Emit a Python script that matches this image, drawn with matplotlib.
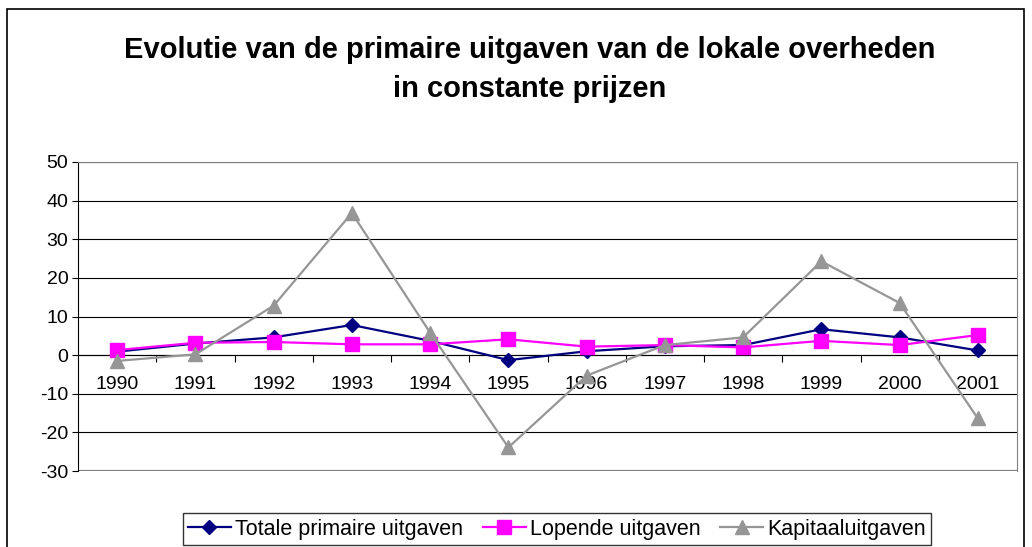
import numpy as np
import matplotlib.pyplot as plt
from matplotlib.patches import Rectangle

plt.rcParams['font.family'] = ['Liberation Sans', 'DejaVu Sans']
plt.rcParams['axes.unicode_minus'] = False

# Gegevens
jaren = ['1990', '1991', '1992', '1993', '1994', '1995', '1996', '1997', '1998', '1999', '2000', '2001']
totale = [0.9, 3.0, 4.6, 7.8, 3.7, -1.3, 1.0, 2.3, 2.6, 6.7, 4.6, 1.2]
lopende = [1.3, 3.2, 3.4, 2.8, 2.8, 4.1, 2.2, 2.6, 2.0, 3.7, 2.6, 5.2]
kapitaal = [-1.5, 0.2, 12.8, 36.8, 5.8, -23.9, -5.3, 2.6, 4.6, 24.3, 13.5, -16.4]

fig = plt.figure(figsize=(10.32, 5.47), dpi=100)
ax = fig.add_axes([78/1032, 1 - 471/547, (1017 - 78)/1032, (471 - 162)/547])

x = np.arange(len(jaren))
ax.plot(x, totale, color='#000080', lw=1.6, marker='D', ms=7, label='Totale primaire uitgaven', zorder=3)
ax.plot(x, lopende, color='#FF00FF', lw=1.6, marker='s', ms=10, label='Lopende uitgaven', zorder=3)
ax.plot(x, kapitaal, color='#969696', lw=1.6, marker='^', ms=10, label='Kapitaaluitgaven', zorder=3)

ax.set_xlim(-0.5, len(jaren) - 0.5)
ax.set_ylim(-30, 50)
ax.set_yticks(np.arange(-30, 51, 10))
ax.yaxis.grid(True, color='black', lw=0.8)
ax.set_axisbelow(True)

# x-as op nul, met streepjes tussen de categorieen
ax.spines['bottom'].set_position(('data', 0))
ax.spines['bottom'].set_color('black')
ax.spines['left'].set_color('black')
for s in ['top', 'right']:
    ax.spines[s].set_color('#808080')
ax.axhline(-30, color='#808080', lw=1.6, zorder=2)
ax.axhline(50, color='#808080', lw=1.2, zorder=2)
ax.set_xticks(np.arange(0.5, len(jaren) - 0.5, 1))
ax.set_xticklabels([])
ax.set_xticks(x, minor=True)
ax.set_xticklabels(jaren, minor=True)
ax.tick_params(axis='x', which='major', direction='out', length=5, color='black')
ax.tick_params(axis='x', which='minor', length=0, pad=15, labelsize=14)
ax.tick_params(axis='y', direction='out', length=4, labelsize=14, pad=3)

fig.text(0.513, 1 - 50/547, 'Evolutie van de primaire uitgaven van de lokale overheden',
         ha='center', va='center', fontsize=21, fontweight='bold')
fig.text(0.513, 1 - 89/547, 'in constante prijzen',
         ha='center', va='center', fontsize=21, fontweight='bold')

# kader rond de grafiek
fig.patches.append(Rectangle((7/1032, -0.1), (1024 - 7)/1032, 1.1 - 9/547,
                             transform=fig.transFigure, fill=False, ec='black', lw=1.2))

leg = fig.legend(loc='center', bbox_to_anchor=(557/1032, 1 - 529/547), ncol=3,
                 fontsize=15.5, frameon=True, fancybox=False, edgecolor='black',
                 handlelength=2.0, columnspacing=0.9, handletextpad=0.2, borderpad=0.25)
leg.get_frame().set_linewidth(1)

fig.savefig('out.png', dpi=100)
